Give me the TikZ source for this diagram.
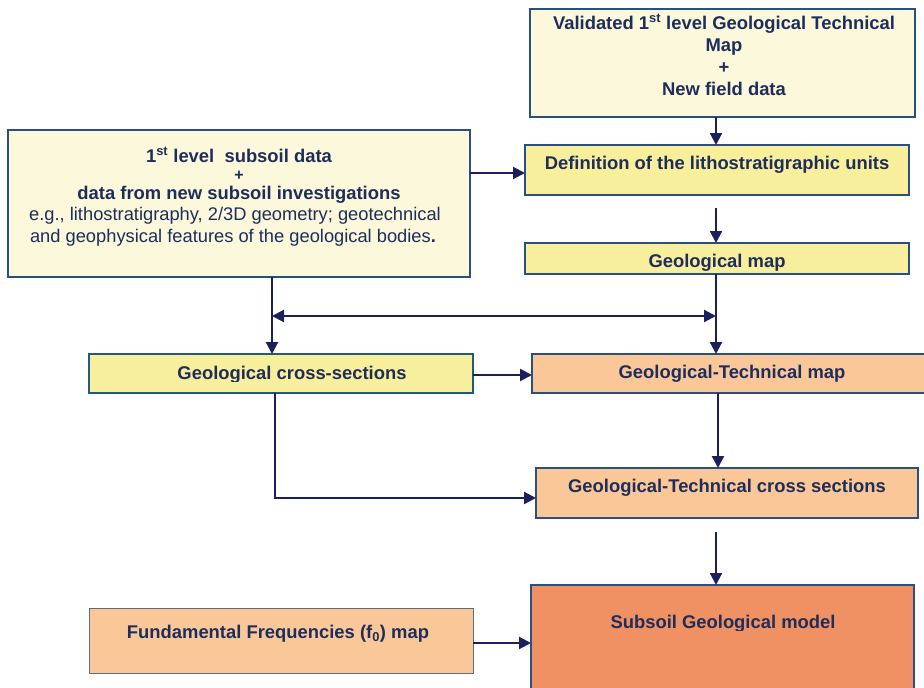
\documentclass[tikz,border=0pt]{standalone}
\usepackage{fontspec}
\setmainfont{Liberation Sans}
\usetikzlibrary{arrows.meta}
\definecolor{cream}{HTML}{FBF8DC}
\definecolor{yel}{HTML}{F7EF9B}
\definecolor{peach}{HTML}{FAC898}
\definecolor{orng}{HTML}{F09163}
\definecolor{bord}{HTML}{2B4F80}
\definecolor{ink}{HTML}{1F2D5A}
\definecolor{arrc}{HTML}{1C1F5E}
\begin{document}
\begin{tikzpicture}[x=1pt,y=-1pt,
  box/.style={draw=bord, line width=1.8pt, inner sep=0pt, outer sep=0pt, anchor=north west},
  txt/.style={text=ink, font=\fontsize{18.4}{22}\selectfont\bfseries, anchor=base, inner sep=0pt},
  rtxt/.style={text=ink, font=\fontsize{18.3}{21}\selectfont, anchor=base, inner sep=0pt},
  arr/.style={draw=arrc, line width=2.2pt, -{Triangle[length=12pt,width=12pt]}},
  darr/.style={draw=arrc, line width=2.2pt, {Triangle[length=12pt,width=12pt]}-{Triangle[length=12pt,width=12pt]}}]
\useasboundingbox (0,0) rectangle (924,688);
\coordinate (cR) at (716,0);
\coordinate (cL) at (272,0);
% boxes
\node[box, fill=cream, minimum width=385pt, minimum height=108pt] (b1) at (530,9) {};
\node[box, fill=cream, minimum width=462pt, minimum height=147pt] (b2) at (8,130) {};
\node[box, fill=yel, minimum width=384pt, minimum height=50pt] (def) at (525,145) {};
\node[box, fill=yel, minimum width=384pt, minimum height=31pt] (gmap) at (525,243) {};
\node[box, fill=yel, draw=bord!80!teal, minimum width=384pt, minimum height=39pt] (gcs) at (89,354) {};
\node[box, fill=peach, minimum width=398pt, minimum height=39pt] (gtm) at (532,354) {};
\node[box, fill=peach, minimum width=382pt, minimum height=50pt] (gtcs) at (536,468) {};
\node[box, fill=peach, draw=bord!40!gray, line width=0.9pt, minimum width=384pt, minimum height=65pt] (ff) at (89,608) {};
\node[box, fill=orng, minimum width=383pt, minimum height=120pt] (sub) at (531,585) {};
% texts
\node[txt] (t1a) at (724,29) {Validated 1\textsuperscript{st} level Geological Technical};
\node[txt] (t1b) at (724,51) {Map};
\node[txt] (t1c) at (724,73) {+};
\node[txt] (t1d) at (724,95) {New field data};
\node[txt] (t2a) at (239,162) {1\textsuperscript{st} level\ \ subsoil data};
\node[txt, font=\fontsize{16}{18}\selectfont\bfseries] (t2b) at (239,180) {+};
\node[txt] (t2c) at (239,199) {data from new subsoil investigations};
\node[rtxt] (t2d) at (235,220) {e.g., lithostratigraphy, 2/3D geometry; geotechnical};
\node[rtxt] (t2e) at (233,242) {and geophysical features of the geological bodies\textbf{.}};
\node[txt] (tdef) at (717,169) {Definition of the lithostratigraphic units};
\begin{scope}
  \clip (525,243) rectangle (909,270);
  \node[txt] (tgmap) at (717,267) {Geological map};
\end{scope}
\begin{scope}
  \clip (89,354) rectangle (473,381);
  \node[txt] (tgcs) at (292,379) {Geological cross-sections};
\end{scope}
\node[txt] (tgtm) at (732,378) {Geological-Technical map};
\node[txt] (tgtcs) at (727,492) {Geological-Technical cross sections};
\node[txt] (tff) at (278,638) {Fundamental Frequencies (f\textsubscript{0}) map};
\begin{scope}
  \clip (531,585) rectangle (914,630);
  \node[txt] (tsub) at (723,628) {Subsoil Geological model};
\end{scope}
% connectors
\draw[arr] (b1.south -| cR) -- (def.north -| cR);
\draw[arr] (b2.east |- 0,173) -- (def.west |- 0,173);
\draw[arr, shorten <=13pt] (def.south -| cR) -- (gmap.north -| cR);
\draw[arr] (gmap.south -| cR) -- (gtm.north -| cR);
\draw[arr] (b2.south -| cL) -- (gcs.north -| cL);
\draw[darr] (cL |- 0,316) -- (cR |- 0,316);
\draw[arr] (gcs.east |- 0,375) -- (gtm.west |- 0,375);
\draw[arr] (gtm.south -| 718,0) -- (gtcs.north -| 718,0);
\draw[arr] (gcs.south -| 275,0) |- (gtcs.west |- 0,498);
\draw[arr, shorten <=14pt] (gtcs.south -| cR) -- (sub.north -| cR);
\draw[arr] (ff.east |- 0,643) -- (sub.west |- 0,643);
\end{tikzpicture}
\end{document}
